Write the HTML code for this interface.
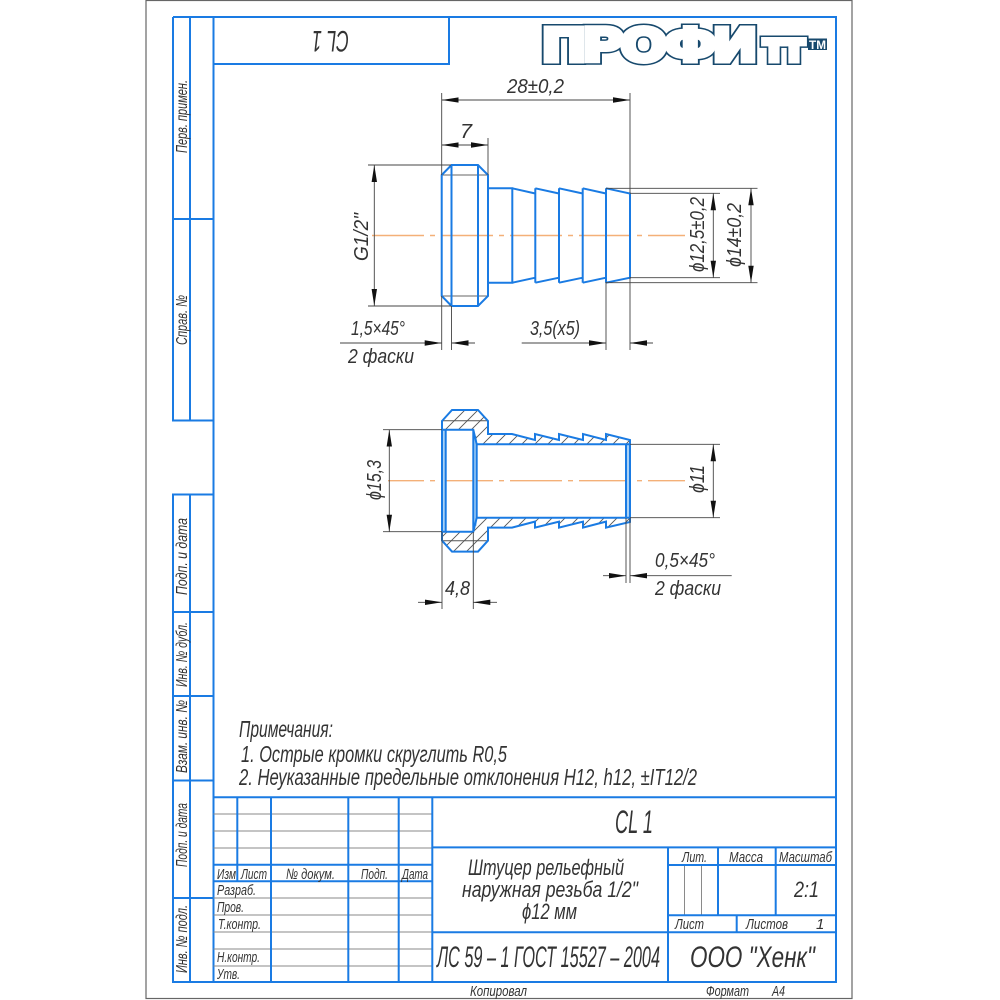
<!DOCTYPE html>
<html><head><meta charset="utf-8"><style>
html,body{margin:0;padding:0;background:#fff;width:1000px;height:1000px;overflow:hidden}
svg{display:block}
text{font-family:"Liberation Sans","DejaVu Sans",sans-serif;font-style:italic;fill:#333;}
.b{stroke:#1a7be3;stroke-width:2;fill:none}
.g{stroke:#8a8a8a;stroke-width:1;fill:none}
.d{stroke:#444;stroke-width:.9;fill:none}
.c{stroke:#f4b078;stroke-width:1.4;fill:none;stroke-dasharray:52 6 5 6}
.h{stroke:#555;stroke-width:.9}
.lg{font-style:normal;font-weight:700}
</style></head><body>
<svg xmlns="http://www.w3.org/2000/svg" width="1000" height="1000" viewBox="0 0 1000 1000">
<defs>
<marker id="a" markerUnits="userSpaceOnUse" markerWidth="17" markerHeight="7" refX="17" refY="3.5" orient="auto-start-reverse"><path d="M0 .8L17 3.5L0 6.2z" fill="#111"/></marker>
<clipPath id="s1"><path d="M442 421L452 410H478L488 421V434H512L535 440V434L559 440V434L583 440V434L606 440V434L630 440V444.3H477L473.3 429.7H442z"/></clipPath>
<clipPath id="s2"><path d="M442 540.6L452 551.6H478L488 540.6V527.6H512L535 521.6V527.6L559 521.6V527.6L583 521.6V527.6L606 521.6V527.6L630 521.6V517.3H477L473.3 531.7H442z"/></clipPath>
</defs>
<rect x="146" y=".5" width="706" height="998" fill="#fff" stroke="#666" stroke-width="1.2"/>

<!-- frame -->
<path class="b" d="M213.5 17H836V982H173V494.5H213.5M173 17H213.5M173 17V420.5H213.5M190 17V420.5M173 219H213.5M190 494.5V982M173 612H213.5M173 696H213.5M173 780.5H213.5M173 898H213.5M213.5 17V982M213.5 64H449V17"/>
<!-- title block -->
<path class="g" d="M213.5 814H432M213.5 831H432M213.5 848H432M213.5 898H432M213.5 915H432M213.5 932H432M213.5 949H432M213.5 966H432M684.5 865V915M701.5 865V915"/>
<path class="b" d="M213.5 797.3H836M237.3 797.3V881.3M271 797.3V982M348.3 797.3V982M398.7 797.3V982M432.3 797.3V982M213.5 864.7H432M213.5 881.3H432M432.3 847.4H836M432.3 932.3H836M668 847.4V982M668 865H836M718 847.4V915.3M775.7 847.4V915.3M668 915.3H836M736.7 915.3V932.3"/>

<!-- logo -->
<g>
<text class="lg" x="543.5" y="60.5" font-size="46" textLength="212" lengthAdjust="spacingAndGlyphs" style="fill:#fff;stroke:#17496d;stroke-width:9;stroke-linejoin:miter">ПРОФИ</text>
<text class="lg" x="764" y="60.5" font-size="30" textLength="40" lengthAdjust="spacingAndGlyphs" style="fill:#fff;stroke:#17496d;stroke-width:9;stroke-linejoin:miter">ТТ</text>
<text class="lg" x="543.5" y="60.5" font-size="46" textLength="212" lengthAdjust="spacingAndGlyphs" style="fill:#fff;stroke:#fff;stroke-width:6">ПРОФИ</text>
<text class="lg" x="764" y="60.5" font-size="30" textLength="40" lengthAdjust="spacingAndGlyphs" style="fill:#fff;stroke:#fff;stroke-width:6">ТТ</text>
<rect x="808" y="38.5" width="19" height="11.5" fill="#17496d"/>
<text class="lg" x="809" y="49" font-size="12" textLength="17" lengthAdjust="spacingAndGlyphs" style="fill:#fff">TM</text>
</g>

<!-- Part view 1 -->
<path class="c" d="M372 235.5H685"/>
<path class="g" d="M442 175H488M442 296H488" style="stroke:#666"/>
<path class="b" d="M441.7 175L451.5 165H478L488 175V296L478 306H451.5L441.7 296zM451.5 165V306M478 165V306M488 188.3H512.3V282.7H488M512.3 188.3L535.3 193.5M535.3 188.3L559 193.5M559 188.3L582.7 193.5M582.7 188.3L606 193.5M606 188.3L630 193.5V277.7L606 282.7M582.7 282.7L606 277.7M559 282.7L582.7 277.7M535.3 282.7L559 277.7M512.3 282.7L535.3 277.7M535.3 188.3V282.7M559 188.3V282.7M582.7 188.3V282.7M606 188.3V282.7"/>
<!-- dims view 1 -->
<path class="d" d="M441.7 93V165M630 93V193M488 138V175M441.7 138V175M368 165H451M368 306H451M606 188.3H757.5M606 282.7H757.5M630 193.3H720M630 277.7H720M441.7 296V350M451.5 306V350M606 282V350M630 277V350"/>
<line class="d" x1="441.7" y1="100" x2="630" y2="100" marker-start="url(#a)" marker-end="url(#a)"/>
<line class="d" x1="441.7" y1="145" x2="488" y2="145" marker-start="url(#a)" marker-end="url(#a)"/>
<line class="d" x1="374.3" y1="165" x2="374.3" y2="306" marker-start="url(#a)" marker-end="url(#a)"/>
<line class="d" x1="713.3" y1="193.3" x2="713.3" y2="277.7" marker-start="url(#a)" marker-end="url(#a)"/>
<line class="d" x1="751" y1="188.3" x2="751" y2="282.7" marker-start="url(#a)" marker-end="url(#a)"/>
<line class="d" x1="340" y1="343" x2="441.7" y2="343" marker-end="url(#a)"/>
<line class="d" x1="475" y1="343" x2="451.5" y2="343" marker-end="url(#a)"/>
<line class="d" x1="521.7" y1="343" x2="606" y2="343" marker-end="url(#a)"/>
<line class="d" x1="653" y1="343" x2="630" y2="343" marker-end="url(#a)"/>

<!-- Part view 2 -->
<path class="c" d="M388 480.7H685" style="stroke-dashoffset:16"/>
<rect x="442" y="429.7" width="3.7" height="102" fill="#a9d2f7"/>
<rect x="473.5" y="436" width="3.2" height="90" fill="#a9d2f7"/>
<rect x="626" y="444.3" width="4" height="73.4" fill="#a9d2f7"/>
<g clip-path="url(#s1)">
<path class="h" d="M475 400L415 460M488 400L428 460M501 400L441 460M514 400L454 460M527 400L467 460M540 400L480 460M553 400L493 460M566 400L506 460M579 400L519 460M592 400L532 460M605 400L545 460M618 400L558 460M631 400L571 460M644 400L584 460M657 400L597 460M670 400L610 460"/>
<path d="M442 420.7H488" class="g" style="stroke:#555"/>
</g>
<g clip-path="url(#s2)">
<path class="h" d="M464 515L419 560M477 515L432 560M490 515L445 560M503 515L458 560M516 515L471 560M529 515L484 560M542 515L497 560M555 515L510 560M568 515L523 560M581 515L536 560M594 515L549 560M607 515L562 560M620 515L575 560M633 515L588 560M646 515L601 560"/>
<path d="M442 540.7H488" class="g" style="stroke:#555"/>
</g>
<path class="b" d="M445.7 429.7V531.7M442 429.7H473.3L476.7 444.3V517.7L473.3 531.7H442M476.7 444.3H630M476.7 517.7H630M473.3 429.7V531.7M626 444.3V517.7"/>
<path class="b" d="M442 421L452 410H478L488 421V434H512L535 440V434L559 440V434L583 440V434L606 440V434L630 440V522L606 527.6V521.6L583 527.6V521.6L559 527.6V521.6L535 527.6V521.6L512 527.6H488V540.6L478 551.6H452L442 540.6z"/>
<!-- dims view 2 -->
<path class="d" d="M383 429.7H442M383 531.7H442M630 444.3H720M630 517.7H720M442 532V609M473.3 532V609M626 518V583M630 518V583"/>
<line class="d" x1="389.3" y1="429.7" x2="389.3" y2="531.7" marker-start="url(#a)" marker-end="url(#a)"/>
<line class="d" x1="713.3" y1="444.3" x2="713.3" y2="517.7" marker-start="url(#a)" marker-end="url(#a)"/>
<line class="d" x1="418" y1="602.3" x2="442" y2="602.3" marker-end="url(#a)"/>
<line class="d" x1="497" y1="602.3" x2="473.3" y2="602.3" marker-end="url(#a)"/>
<line class="d" x1="603" y1="575.7" x2="626" y2="575.7" marker-end="url(#a)"/>
<line class="d" x1="731.7" y1="575.7" x2="630" y2="575.7" marker-end="url(#a)"/>

<!-- dimension text -->
<text x="507" y="93" font-size="20" textLength="57" lengthAdjust="spacingAndGlyphs">28±0,2</text>
<text x="460" y="138" font-size="20" textLength="12" lengthAdjust="spacingAndGlyphs">7</text>
<text transform="translate(368 261) rotate(-90)" font-size="20" textLength="48" lengthAdjust="spacingAndGlyphs">G1/2"</text>
<text transform="translate(704 272) rotate(-90)" font-size="20" textLength="75" lengthAdjust="spacingAndGlyphs">ϕ12,5±0,2</text>
<text transform="translate(741 267) rotate(-90)" font-size="20" textLength="64" lengthAdjust="spacingAndGlyphs">ϕ14±0,2</text>
<text x="351" y="335" font-size="20" textLength="54" lengthAdjust="spacingAndGlyphs">1,5×45°</text>
<text x="348" y="363" font-size="20" textLength="66" lengthAdjust="spacingAndGlyphs">2 фаски</text>
<text x="530" y="335" font-size="20" textLength="50" lengthAdjust="spacingAndGlyphs">3,5(x5)</text>
<text transform="translate(381 500) rotate(-90)" font-size="20" textLength="40" lengthAdjust="spacingAndGlyphs">ϕ15,3</text>
<text transform="translate(704 493) rotate(-90)" font-size="20" textLength="28" lengthAdjust="spacingAndGlyphs">ϕ11</text>
<text x="445" y="595" font-size="20" textLength="25" lengthAdjust="spacingAndGlyphs">4,8</text>
<text x="655" y="567" font-size="20" textLength="60" lengthAdjust="spacingAndGlyphs">0,5×45°</text>
<text x="655" y="595" font-size="20" textLength="66" lengthAdjust="spacingAndGlyphs">2 фаски</text>

<!-- notes -->
<text x="239" y="737" font-size="23" textLength="94" lengthAdjust="spacingAndGlyphs">Примечания:</text>
<text x="241" y="762" font-size="23" textLength="266" lengthAdjust="spacingAndGlyphs">1. Острые кромки скруглить R0,5</text>
<text x="239" y="785" font-size="23" textLength="458" lengthAdjust="spacingAndGlyphs">2. Неуказанные предельные отклонения H12, h12, ±IT12/2</text>

<!-- top stamp -->
<text transform="translate(349 31) rotate(180)" font-size="30" textLength="37" lengthAdjust="spacingAndGlyphs">CL 1</text>

<!-- side labels -->
<text transform="translate(187 153) rotate(-90)" font-size="16" textLength="73" lengthAdjust="spacingAndGlyphs">Перв. примен.</text>
<text transform="translate(187 345) rotate(-90)" font-size="16" textLength="50" lengthAdjust="spacingAndGlyphs">Справ. №</text>
<text transform="translate(187 595) rotate(-90)" font-size="16" textLength="77" lengthAdjust="spacingAndGlyphs">Подп. и дата</text>
<text transform="translate(187 687) rotate(-90)" font-size="16" textLength="65" lengthAdjust="spacingAndGlyphs">Инв. № дубл.</text>
<text transform="translate(187 773) rotate(-90)" font-size="16" textLength="73" lengthAdjust="spacingAndGlyphs">Взам. инв. №</text>
<text transform="translate(187 867) rotate(-90)" font-size="16" textLength="64" lengthAdjust="spacingAndGlyphs">Подп. и дата</text>
<text transform="translate(187 973) rotate(-90)" font-size="16" textLength="68" lengthAdjust="spacingAndGlyphs">Инв. № подл.</text>

<!-- title block text -->
<text x="217" y="879" font-size="15" textLength="19" lengthAdjust="spacingAndGlyphs">Изм</text>
<text x="241" y="879" font-size="15" textLength="26" lengthAdjust="spacingAndGlyphs">Лист</text>
<text x="286" y="879" font-size="15" textLength="49" lengthAdjust="spacingAndGlyphs">№ докум.</text>
<text x="361" y="879" font-size="15" textLength="27" lengthAdjust="spacingAndGlyphs">Подп.</text>
<text x="402" y="879" font-size="15" textLength="26" lengthAdjust="spacingAndGlyphs">Дата</text>
<text x="217" y="895" font-size="15" textLength="39" lengthAdjust="spacingAndGlyphs">Разраб.</text>
<text x="217" y="912" font-size="15" textLength="27" lengthAdjust="spacingAndGlyphs">Пров.</text>
<text x="218" y="929" font-size="15" textLength="43" lengthAdjust="spacingAndGlyphs">Т.контр.</text>
<text x="217" y="962" font-size="15" textLength="43" lengthAdjust="spacingAndGlyphs">Н.контр.</text>
<text x="217" y="979" font-size="15" textLength="23" lengthAdjust="spacingAndGlyphs">Утв.</text>

<text x="615" y="833" font-size="32" textLength="38" lengthAdjust="spacingAndGlyphs">CL 1</text>
<text x="468" y="875" font-size="22" textLength="156" lengthAdjust="spacingAndGlyphs">Штуцер рельефный</text>
<text x="462" y="897" font-size="22" textLength="176" lengthAdjust="spacingAndGlyphs">наружная резьба 1/2"</text>
<text x="522" y="919" font-size="22" textLength="55" lengthAdjust="spacingAndGlyphs">ϕ12 мм</text>
<text x="437" y="967" font-size="30" textLength="223" lengthAdjust="spacingAndGlyphs">ЛС 59 – 1 ГОСТ 15527 – 2004</text>
<text x="690" y="967" font-size="30" textLength="125" lengthAdjust="spacingAndGlyphs">ООО "Хенк"</text>
<text x="682" y="862" font-size="15" textLength="25" lengthAdjust="spacingAndGlyphs">Лит.</text>
<text x="729" y="862" font-size="15" textLength="34" lengthAdjust="spacingAndGlyphs">Масса</text>
<text x="779" y="862" font-size="15" textLength="53" lengthAdjust="spacingAndGlyphs">Масштаб</text>
<text x="794" y="897" font-size="22" textLength="25" lengthAdjust="spacingAndGlyphs">2:1</text>
<text x="675" y="929" font-size="15" textLength="29" lengthAdjust="spacingAndGlyphs">Лист</text>
<text x="746" y="929" font-size="15" textLength="42" lengthAdjust="spacingAndGlyphs">Листов</text>
<text x="816" y="929" font-size="15">1</text>
<text x="470" y="996" font-size="15" textLength="57" lengthAdjust="spacingAndGlyphs">Копировал</text>
<text x="706" y="996" font-size="15" textLength="43" lengthAdjust="spacingAndGlyphs">Формат</text>
<text x="772" y="996" font-size="15" textLength="13" lengthAdjust="spacingAndGlyphs">A4</text>
</svg>
</body></html>
